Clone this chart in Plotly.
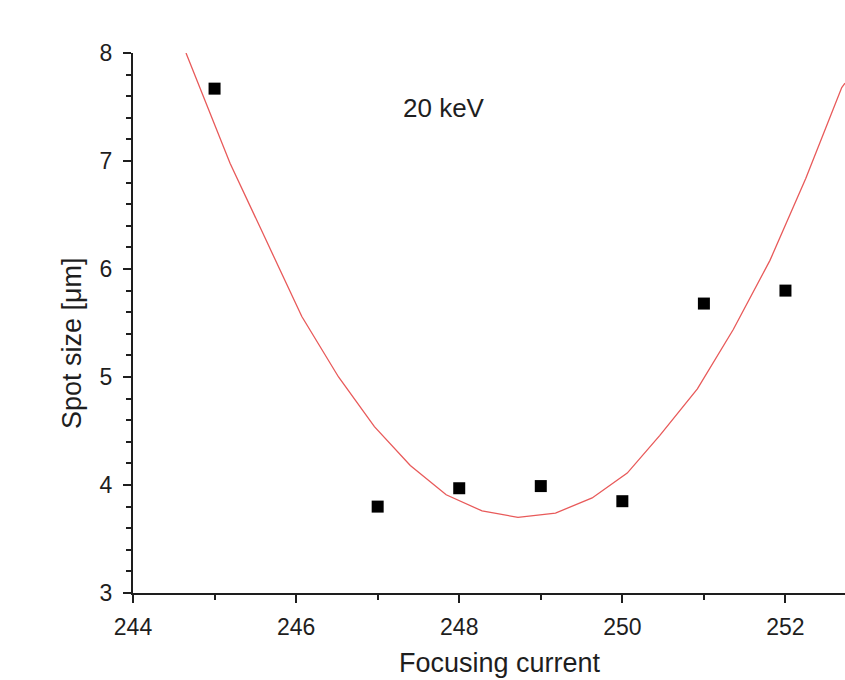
import plotly.graph_objects as go

# Measured data points
current = [245, 247, 248, 249, 250, 251, 252]
spot_size = [7.67, 3.80, 3.97, 3.99, 3.85, 5.68, 5.80]

# Fit curve vertices
fit_x = [244.65, 245.19, 245.63, 246.07, 246.52, 246.96, 247.40, 247.84, 248.28,
         248.72, 249.18, 249.63, 250.06, 250.46, 250.92, 251.36, 251.81, 252.25, 252.69, 252.73]
fit_y = [8.00, 6.98, 6.27, 5.56, 5.00, 4.54, 4.18, 3.91, 3.76,
         3.70, 3.74, 3.88, 4.11, 4.46, 4.89, 5.44, 6.08, 6.84, 7.68, 7.72]

x_ticks = [244, 246, 248, 250, 252]
y_ticks = [3, 4, 5, 6, 7, 8]

FONT = "Arial, Liberation Sans, sans-serif"
AX = "#1e1e1e"

fig = go.Figure()
fig.add_trace(go.Scatter(x=fit_x, y=fit_y, mode="lines",
                         line=dict(color="rgb(232,90,90)", width=1.3),
                         showlegend=False, hoverinfo="skip"))
fig.add_trace(go.Scatter(x=current, y=spot_size, mode="markers",
                         marker=dict(symbol="square", size=12, color="black"),
                         showlegend=False, cliponaxis=False))

fig.update_layout(
    width=845, height=680,
    margin=dict(l=133, r=0, t=53, b=87),
    paper_bgcolor="white", plot_bgcolor="white",
    font=dict(family=FONT, color=AX),
    xaxis=dict(range=[244, 252.73], tickvals=x_ticks, ticks="outside",
               ticklen=8, tickwidth=2, tickcolor=AX,
               showline=True, linewidth=2, linecolor=AX, mirror=False,
               showgrid=False, zeroline=False, tickfont=dict(size=23, family=FONT, color=AX),
               ticklabelstandoff=4,
               minor=dict(dtick=1, tick0=244, ticks="outside", ticklen=5, tickwidth=2, tickcolor=AX, showgrid=False)),
    yaxis=dict(range=[3, 8], tickvals=y_ticks, ticks="outside",
               ticklen=8, tickwidth=2, tickcolor=AX,
               showline=True, linewidth=2, linecolor=AX, mirror=False,
               showgrid=False, zeroline=False, tickfont=dict(size=23, family=FONT, color=AX),
               ticklabelstandoff=6,
               minor=dict(dtick=0.2, tick0=3, ticks="outside", ticklen=5, tickwidth=2, tickcolor=AX, showgrid=False)),
    annotations=[
        dict(text="20 keV", x=247.81, y=7.49, xref="x", yref="y", showarrow=False,
             font=dict(size=26, family=FONT, color=AX), xanchor="center", yanchor="middle"),
        dict(text="Focusing current", x=(500 - 133) / 712, y=(593 - 663) / 540, xref="paper", yref="paper",
             showarrow=False, font=dict(size=27, family=FONT, color=AX), xanchor="center", yanchor="middle"),
        dict(text="Spot size [μm]", x=(72 - 133) / 712, y=(593 - 343) / 540, xref="paper", yref="paper",
             showarrow=False, textangle=-90, font=dict(size=27, family=FONT, color=AX),
             xanchor="center", yanchor="middle"),
    ],
)

fig.write_html(
    "out.html",
    config={"displayModeBar": False},
    post_script="document.body.style.margin='0';document.body.style.overflow='hidden';",
)
